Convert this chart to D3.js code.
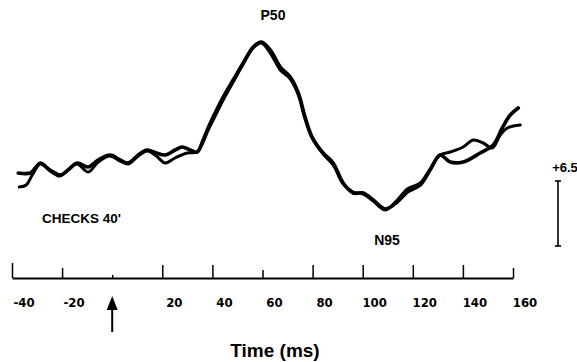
<!DOCTYPE html>
<html>
<head>
<meta charset="utf-8">
<script src="https://cdn.jsdelivr.net/npm/d3@7"></script>
<style>
	body { margin: 0; background: #fff; }
	svg { display: block; }
</style>
</head>
<body>
<div id="chart"></div>
<script>
"use strict"

// time (ms), amplitude (uV)
var traceA = [
	[-37.5,-1.3],[-32.7,-1.3],[-30.7,-0.8],[-28.7,-0.3],[-24.8,-1.0],[-20.8,-1.5],
	[-17.6,-1.0],[-14.0,-0.3],[-9.6,-0.7],[-5.6,0.0],[-0.8,0.5],[3.2,0.0],[6.4,-0.3],
	[10.4,0.5],[14.0,1.0],[17.6,0.7],[21.2,0.5],[25.1,1.0],[27.9,1.3],[31.1,1.0],
	[33.9,0.8],[36.3,2.0],[38.3,3.2],[40.3,4.3],[44.3,6.3],[48.3,8.0],[52.3,9.7],
	[56.3,11.3],[59.5,11.8],[63.1,11.0],[67.1,9.3],[71.1,8.3],[74.3,6.7],[77.0,4.3],
	[79.8,2.3],[84.2,0.7],[88.2,-0.3],[92.2,-2.3],[96.2,-3.3],[100.2,-3.3],[104.2,-4.0],
	[109.0,-4.9],[113.8,-4.2],[117.8,-3.2],[123.0,-2.5],[126.9,-1.0],[130.9,0.5],
	[134.9,-0.2],[140.1,-0.2],[146.9,0.7],[152.1,1.5],[155.7,3.2],[158.9,4.5],[162.1,5.2]
];
var traceB = [
	[-37.1,-2.7],[-34.3,-2.5],[-31.9,-1.5],[-28.7,-0.4],[-24.8,-1.1],[-20.8,-1.6],
	[-17.6,-1.0],[-14.0,-0.4],[-9.6,-1.2],[-5.6,-0.2],[-0.8,0.4],[3.2,-0.1],[6.4,-0.4],
	[10.4,0.4],[14.0,0.9],[17.6,0.4],[21.2,-0.3],[25.1,0.2],[29.9,0.7],[33.9,0.8],
	[36.3,1.8],[38.3,3.0],[40.3,4.0],[44.3,6.0],[48.3,7.8],[52.3,9.6],[56.3,11.2],
	[59.5,11.7],[63.1,10.7],[67.1,9.0],[71.1,8.1],[74.3,6.5],[77.0,4.1],[79.8,2.2],
	[84.2,0.6],[88.2,-0.5],[92.2,-2.4],[96.2,-3.2],[100.2,-3.4],[104.2,-4.1],[109.0,-5.0],
	[113.8,-4.0],[117.8,-2.9],[123.0,-2.3],[126.9,-0.9],[130.9,0.5],[134.9,0.8],
	[140.1,1.3],[144.1,2.0],[148.1,1.7],[151.7,1.2],[154.9,2.5],[157.7,3.2],[162.9,3.5]
];
var tickValues = [-40, -20, 0, 20, 40, 60, 80, 100, 120, 140, 160];
var tickLabels = ["-40", "-20", "", "20", "40", "60", "80", "100", "120", "140", "160"];
var scaleBarValue = 6.5;   // uV
var stimulusTime = 0;      // ms, arrow

var W = 577, H = 362;

var svg = d3.select("#chart")
	.append("svg")
	.attr("width", W)
	.attr("height", H)
	;

var x = d3.scaleLinear().domain([-40, 160]).range([12, 513]);
var y = d3.scaleLinear().domain([0, 10]).range([160, 60]);

var axisY = 278;

// traces
var line = d3.line()
	.x(function(d) { return x(d[0]); })
	.y(function(d) { return y(d[1]); })
	.curve(d3.curveCatmullRom.alpha(0.5))
	;
svg.append("path")
	.datum(traceB)
	.attr("d", line)
	.attr("fill", "none")
	.attr("stroke", "#000")
	.attr("stroke-width", 3)
	.attr("stroke-linejoin", "round")
	.attr("stroke-linecap", "round")
	;
svg.append("path")
	.datum(traceA)
	.attr("d", line)
	.attr("fill", "none")
	.attr("stroke", "#000")
	.attr("stroke-width", 3.6)
	.attr("stroke-linejoin", "round")
	.attr("stroke-linecap", "round")
	;

// time axis, ticks pointing up
var axis = d3.axisTop(x)
	.tickValues(tickValues)
	.tickSize(13)
	.tickSizeOuter(0)
	.tickFormat("")
	;
var gAxis = svg.append("g")
	.attr("transform", "translate(0," + axisY + ")")
	.call(axis)
	;
gAxis.select(".domain")
	.attr("stroke", "#000")
	.attr("stroke-width", 2)
	;
gAxis.selectAll(".tick line")
	.attr("stroke", "#000")
	.attr("stroke-width", 1.5)
	.attr("y2", function(d) {
		if (d == 0) return -3;
		if (d == 60) return -8;
		if (d == -40) return -15;
		if (d == -20 || d == 160) return -10;
		return -13;
	})
	;

svg.append("g")
	.selectAll("text")
	.data(tickValues)
	.enter()
	.append("text")
	.attr("x", function(d) { return x(d) + 12; })
	.attr("y", axisY + 29)
	.attr("text-anchor", "middle")
	.style("font-family", "'DejaVu Sans Condensed', 'DejaVu Sans'")
	.style("font-weight", "bold")
	.style("font-size", "13px")
	.attr("fill", "#000")
	.text(function(d, i) { return tickLabels[i]; })
	;

// stimulus arrow
var ax = x(stimulusTime);
svg.append("line")
	.attr("x1", ax).attr("x2", ax)
	.attr("y1", 305).attr("y2", 332)
	.attr("stroke", "#000")
	.attr("stroke-width", 2)
	;
svg.append("path")
	.attr("d", "M" + ax + ",296 L" + (ax - 5.5) + ",310 L" + (ax + 5.5) + ",310 Z")
	.attr("fill", "#000")
	;

// amplitude scale bar
var barX = 558, barTop = 181;
var barLen = y(0) - y(scaleBarValue);
svg.append("line")
	.attr("x1", barX).attr("x2", barX)
	.attr("y1", barTop).attr("y2", barTop + barLen)
	.attr("stroke", "#000")
	.attr("stroke-width", 1.6)
	;
svg.append("line")
	.attr("x1", barX - 3).attr("x2", barX + 3)
	.attr("y1", barTop).attr("y2", barTop)
	.attr("stroke", "#000")
	.attr("stroke-width", 1.6)
	;
svg.append("line")
	.attr("x1", barX - 3).attr("x2", barX + 3)
	.attr("y1", barTop + barLen).attr("y2", barTop + barLen)
	.attr("stroke", "#000")
	.attr("stroke-width", 1.6)
	;

// labels
function label(txt, px, py, size, anchor) {
	svg.append("text")
		.attr("x", px)
		.attr("y", py)
		.attr("text-anchor", anchor || "middle")
		.style("font-family", "'Liberation Sans', Arial, sans-serif")
		.style("font-weight", "bold")
		.style("font-size", size + "px")
		.attr("fill", "#000")
		.text(txt)
		;
}
label("+" + scaleBarValue, 565, 172, 13);
label("P50", 273, 20, 14);
label("N95", 387, 245, 14);
label("CHECKS 40'", 42, 223, 13.5, "start");
label("Time (ms)", 275, 357, 19);
</script>
</body>
</html>
